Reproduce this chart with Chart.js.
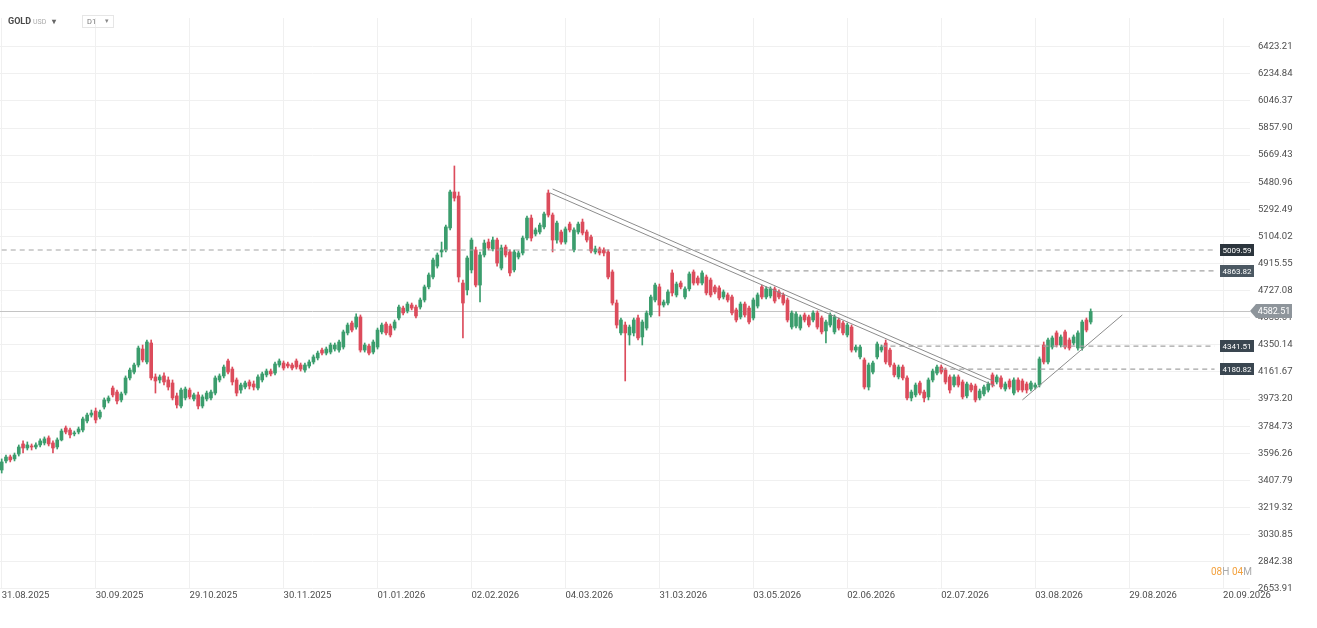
<!DOCTYPE html>
<html>
<head>
<meta charset="utf-8">
<script src="https://cdn.jsdelivr.net/npm/chart.js@4.4.1/dist/chart.umd.min.js"></script>
<style>
  html, body { margin: 0; padding: 0; background: #fff; overflow: hidden; }
  #wrap { position: relative; width: 1317px; height: 628px; }
  #chart { position: absolute; left: 0; top: 0; }
  .hdr { position: absolute; font-family: Roboto, sans-serif; white-space: nowrap; }
  #sym { left: 8px; top: 16px; font-size: 9px; font-weight: bold; color: #4a4a4a; }
  #sym small { font-weight: normal; font-size: 7px; color: #aaa; margin-left: 2px; }
  #sym i { font-style: normal; font-size: 8px; color: #666; margin-left: 6px; }
  #tf { left: 82px; top: 15px; width: 30px; height: 11px; border: 1px solid #e6e6e6; font-size: 7.5px; color: #777; line-height: 11px; }
  #tf span { position: absolute; left: 4px; }
  #tf i { position: absolute; right: 4px; font-style: normal; font-size: 7px; color: #888; }
  #timer { left: 1211px; top: 566px; font-size: 10px; color: #aaa; }
  #timer b { font-weight: normal; color: #f3a23f; }
</style>
</head>
<body>
<div id="wrap">
  <canvas id="chart" width="1317" height="628"></canvas>
  <div class="hdr" id="sym">GOLD<small>USD</small><i>▾</i></div>
  <div class="hdr" id="tf"><span>D1</span><i>▾</i></div>
  <div class="hdr" id="timer"><b>08</b>H <b>04</b>M</div>
</div>
<script>
// daily candles (one entry per bar)
var openVals = [
  3480,3543,3571,3557,3591,3661,3633,3647,3640,3654,
  3668,3703,3668,3640,3689,3772,3758,3731,3744,3758,
  3821,3862,3890,3848,3918,3960,4050,4022,3967,4015,
  4120,4161,4210,4321,4231,4363,4127,4106,4134,4106,
  4085,3995,3925,3981,4036,3974,4002,3925,3974,3981,
  4015,4106,4134,4238,4182,4106,4036,4057,4092,4078,
  4050,4106,4141,4168,4154,4210,4224,4217,4210,4238,
  4210,4175,4203,4231,4259,4314,4293,4300,4321,4314,
  4335,4433,4502,4474,4544,4314,4342,4300,4335,4440,
  4495,4481,4467,4537,4606,4586,4627,4613,4613,4662,
  4753,4822,4898,4996,5010,5163,5413,5385,4780,4732,
  4871,5010,4766,4975,5065,5017,5079,4884,5030,4996,
  4871,4961,4989,5093,5232,5121,5135,5170,5406,5253,
  5079,5135,5065,5190,5010,5135,5204,5135,5100,4996,
  5017,5010,4996,4857,4641,4433,4488,4419,4433,4537,
  4405,4467,4558,4662,4753,4627,4641,4850,4697,4780,
  4683,4739,4857,4815,4780,4822,4801,4753,4746,4683,
  4697,4683,4593,4544,4634,4606,4537,4620,4753,4683,
  4690,4739,4718,4697,4662,4474,4481,4467,4558,4544,
  4523,4572,4537,4447,4488,4440,4523,4502,4419,4474,
  4314,4266,4245,4057,4161,4266,4314,4363,4314,4210,
  4127,4196,4120,3981,4002,4085,4022,3988,4106,4154,
  4196,4175,4127,4071,4127,4092,3995,4071,4064,3981,
  4009,4036,4141,4092,4120,4043,4099,4015,4106,4099,
  4078,4043,4057,4071,4349,4231,4335,4433,4349,4440,
  4384,4363,4328,4328,4523,4509
];
var closeVals = [
  3536,3570,3550,3584,3640,3633,3654,3640,3654,3682,
  3696,3661,3633,3689,3751,3744,3724,3737,3765,3835,
  3862,3876,3828,3883,3967,3981,4002,3960,4009,4120,
  4175,4210,4328,4245,4370,4120,4099,4127,4092,4057,
  3981,3932,4036,4043,3988,4002,3925,3988,4015,4022,
  4120,4134,4196,4161,4092,4015,4071,4085,4064,4057,
  4127,4148,4168,4148,4217,4238,4189,4203,4189,4196,
  4182,4210,4231,4266,4293,4293,4321,4349,4349,4370,
  4440,4488,4453,4544,4314,4349,4293,4370,4453,4488,
  4433,4419,4509,4613,4572,4634,4606,4551,4662,4753,
  4836,4940,4975,5010,5170,5413,5371,4822,4641,4954,
  5079,4766,4975,5058,5024,5079,4919,5024,4975,4850,
  4996,4989,5093,5232,5093,5149,5183,5260,5253,5079,
  5197,5065,5156,5149,5149,5190,5128,5079,5003,5017,
  4989,4989,4822,4641,4488,4523,4433,4474,4523,4398,
  4509,4572,4683,4766,4627,4648,4718,4711,4773,4753,
  4739,4843,4780,4780,4850,4711,4697,4718,4676,4718,
  4662,4572,4523,4634,4558,4509,4662,4697,4683,4739,
  4739,4655,4683,4641,4523,4572,4565,4544,4523,4488,
  4572,4474,4440,4509,4558,4544,4467,4433,4488,4314,
  4335,4335,4057,4210,4224,4356,4335,4231,4210,4141,
  4196,4120,3981,4022,4071,4015,3981,4106,4168,4196,
  4161,4092,4036,4127,4071,3988,4078,4036,3967,4029,
  4057,4078,4071,4127,4057,4078,4057,4106,4036,4036,
  4036,4085,4071,4252,4231,4384,4398,4349,4405,4335,
  4328,4405,4433,4509,4453,4582
];
var highVals = [
  3557,3584,3584,3598,3654,3682,3675,3661,3668,3696,
  3710,3717,3682,3703,3765,3786,3772,3751,3779,3848,
  3876,3897,3911,3897,3981,3995,4064,4036,4022,4134,
  4189,4224,4342,4349,4384,4384,4148,4141,4155,4127,
  4106,4015,4050,4057,4050,4015,4022,4002,4029,4036,
  4134,4148,4210,4252,4196,4120,4085,4099,4106,4099,
  4141,4161,4182,4182,4231,4252,4238,4231,4224,4252,
  4224,4224,4245,4280,4307,4328,4335,4363,4363,4384,
  4453,4502,4516,4565,4558,4363,4356,4384,4467,4502,
  4509,4495,4523,4627,4620,4648,4641,4627,4676,4766,
  4850,4954,4989,5065,5183,5427,5594,5413,4801,4968,
  5093,5030,4996,5079,5086,5100,5093,5044,5044,5010,
  5010,5003,5107,5246,5253,5163,5197,5274,5427,5267,
  5211,5149,5170,5204,5163,5204,5225,5149,5114,5037,
  5030,5024,5010,4871,4662,4537,4509,4488,4537,4558,
  4523,4586,4697,4780,4773,4662,4732,4871,4787,4794,
  4753,4857,4871,4829,4864,4836,4815,4766,4760,4732,
  4711,4697,4606,4648,4648,4620,4676,4711,4766,4753,
  4753,4753,4732,4711,4676,4586,4579,4558,4572,4558,
  4586,4586,4551,4523,4572,4558,4537,4516,4502,4488,
  4349,4349,4259,4224,4238,4370,4349,4384,4328,4224,
  4210,4210,4134,4036,4085,4099,4036,4120,4182,4210,
  4210,4189,4141,4141,4141,4106,4092,4085,4078,4043,
  4071,4092,4155,4141,4134,4092,4113,4120,4120,4113,
  4092,4099,4085,4266,4370,4398,4412,4447,4419,4453,
  4398,4419,4447,4523,4537,4600
];
var lowVals = [
  3459,3529,3536,3543,3577,3598,3619,3619,3626,3640,
  3654,3647,3598,3626,3682,3731,3703,3717,3731,3744,
  3807,3848,3807,3835,3904,3946,3988,3939,3953,4002,
  4106,4148,4196,4231,4217,4106,4015,4085,4071,4036,
  3967,3911,3911,3967,3974,3960,3904,3911,3960,3967,
  4002,4092,4120,4148,4071,3995,4015,4043,4043,4036,
  4036,4092,4127,4134,4141,4196,4175,4189,4175,4182,
  4168,4161,4189,4217,4245,4280,4280,4287,4307,4300,
  4321,4419,4440,4460,4300,4300,4280,4287,4321,4426,
  4419,4405,4453,4523,4558,4572,4593,4537,4599,4648,
  4739,4808,4884,4961,4996,5149,5350,4787,4398,4697,
  4850,4753,4648,4961,5010,5003,4898,4871,4961,4829,
  4857,4947,4975,5079,5072,5107,5121,5156,5239,4996,
  5058,5051,5051,5135,4996,5121,5114,5065,4989,4982,
  4975,4968,4808,4627,4467,4419,4099,4349,4412,4384,
  4349,4453,4544,4648,4551,4613,4627,4690,4683,4739,
  4669,4725,4766,4766,4766,4697,4683,4704,4662,4669,
  4648,4558,4509,4530,4544,4495,4523,4606,4669,4669,
  4676,4641,4669,4627,4509,4460,4467,4453,4509,4474,
  4509,4460,4426,4363,4474,4426,4453,4419,4405,4300,
  4300,4252,4043,4036,4148,4252,4300,4217,4196,4127,
  4113,4106,3967,3960,3988,4002,3953,3967,4092,4141,
  4148,4078,4015,4057,4057,3974,3981,4022,3953,3967,
  3995,4022,4057,4078,4043,4029,4043,4002,4022,4022,
  4015,4029,4043,4057,4217,4217,4321,4335,4335,4321,
  4314,4349,4314,4314,4440,4495
];

// axis ticks
var dateLabels = ['31.08.2025','30.09.2025','29.10.2025','30.11.2025','01.01.2026','02.02.2026','04.03.2026',
                  '31.03.2026','03.05.2026','02.06.2026','02.07.2026','03.08.2026','29.08.2026','20.09.2026'];
var dateTickIdx = [0, 22, 44, 66, 88, 110, 132, 154, 176, 198, 220, 242, 264, 286];
var priceTicks = [2653.91, 2842.38, 3030.85, 3219.32, 3407.79, 3596.26, 3784.73, 3973.20, 4161.67, 4350.14,
                  4538.61, 4727.08, 4915.55, 5104.02, 5292.49, 5480.96, 5669.43, 5857.90, 6046.37, 6234.84, 6423.21];

// horizontal levels and drawn trend lines
var lastPrice = 4582.51;
var levelVals = [5009.59, 4863.82, 4341.51, 4180.82];
var levelFrom = [0, 173, 206, 220];
var levelTo = 284;
var chanUpper = [{ x: 129, y: 5434 }, { x: 232.2, y: 4099 }];
var chanLower = [{ x: 128.4, y: 5406 }, { x: 232.6, y: 4064 }];
var supportLine = [{ x: 239, y: 3967 }, { x: 262.4, y: 4558 }];

var up = '#3b9d6d', down = '#dc4c5c';
function candleColor(c) {
    return closeVals[c.dataIndex] >= openVals[c.dataIndex] ? up : down;
}

Chart.defaults.font.family = 'Roboto, sans-serif';
Chart.defaults.font.size = 9.5;
Chart.defaults.color = '#4d4d4d';

var lineBase = { type: 'line', pointRadius: 0, borderWidth: 1, fill: false, order: 1 };

var datasets = [
    {
        label: 'wick',
        data: lowVals.map(function (l, i) { return { x: i, y: [l, highVals[i]] }; }),
        backgroundColor: candleColor,
        barThickness: 1,
        grouped: false,
        order: 3
    },
    {
        label: 'body',
        data: openVals.map(function (o, i) { return { x: i, y: [o, closeVals[i]] }; }),
        backgroundColor: candleColor,
        barThickness: 3,
        minBarLength: 1,
        grouped: false,
        order: 2
    },
    Object.assign({}, lineBase, { data: chanUpper, borderColor: '#8c8c8c' }),
    Object.assign({}, lineBase, { data: chanLower, borderColor: '#8c8c8c' }),
    Object.assign({}, lineBase, { data: supportLine, borderColor: '#8c8c8c' })
];
levelVals.forEach(function (v, k) {
    datasets.push(Object.assign({}, lineBase, {
        data: [{ x: levelFrom[k], y: v }, { x: levelTo, y: v }],
        borderColor: '#a3a3a3',
        borderDash: [5, 4],
        borderWidth: 1.2
    }));
});

var levelTagColors = ['#2c353d', '#4b5862', '#3a4650', '#3a4650'];

var overlay = {
    id: 'overlay',
    beforeDatasetsDraw: function (chart) {
        var ctx = chart.ctx, a = chart.chartArea, y = chart.scales.y;
        var py = Math.round(y.getPixelForValue(lastPrice)) + 0.5;
        ctx.save();
        ctx.strokeStyle = '#c4c4c4';
        ctx.lineWidth = 1;
        ctx.beginPath();
        ctx.moveTo(a.left, py);
        ctx.lineTo(a.right, py);
        ctx.stroke();
        ctx.restore();
    },
    afterDraw: function (chart) {
        var ctx = chart.ctx, a = chart.chartArea, y = chart.scales.y;
        ctx.save();
        ctx.font = '8px Roboto, sans-serif';
        ctx.textAlign = 'center';
        ctx.textBaseline = 'middle';
        levelVals.forEach(function (v, k) {
            var py = Math.round(y.getPixelForValue(v));
            ctx.fillStyle = levelTagColors[k];
            ctx.fillRect(a.right - 30, py - 6, 34, 12);
            ctx.fillStyle = '#ffffff';
            ctx.fillText(v.toFixed(2), a.right - 13, py + 0.5);
        });
        // current price tag
        var py = Math.round(y.getPixelForValue(lastPrice));
        ctx.fillStyle = '#8e959b';
        ctx.beginPath();
        ctx.moveTo(a.right, py);
        ctx.lineTo(a.right + 6, py - 7);
        ctx.lineTo(a.right + 42, py - 7);
        ctx.lineTo(a.right + 42, py + 7);
        ctx.lineTo(a.right + 6, py + 7);
        ctx.closePath();
        ctx.fill();
        ctx.fillStyle = '#ffffff';
        ctx.font = '9px Roboto, sans-serif';
        ctx.fillText(lastPrice.toFixed(2), a.right + 24, py + 0.5);
        ctx.restore();
    }
};

new Chart(document.getElementById('chart').getContext('2d'), {
    type: 'bar',
    data: { datasets: datasets },
    options: {
        responsive: false,
        animation: false,
        layout: { padding: { top: 18, left: 0, right: 0, bottom: 0 } },
        plugins: { legend: { display: false }, tooltip: { enabled: false } },
        scales: {
            x: {
                type: 'linear',
                min: -0.4,
                max: 292.3,
                offset: false,
                grid: { color: '#f0f0f0', offset: false, drawTicks: false },
                border: { display: false },
                afterBuildTicks: function (scale) {
                    scale.ticks = dateTickIdx.map(function (v) { return { value: v }; });
                },
                afterFit: function (scale) { scale.height = 39; },
                ticks: {
                    align: 'start',
                    padding: 1,
                    maxRotation: 0,
                    callback: function (v, i) { return dateLabels[i]; }
                }
            },
            y: {
                position: 'right',
                min: 2652.5,
                max: 6622.8,
                grid: { color: '#f0f0f0', drawTicks: false },
                border: { display: false },
                afterBuildTicks: function (scale) {
                    scale.ticks = priceTicks.map(function (v) { return { value: v }; });
                },
                afterFit: function (scale) { scale.width = 67; },
                ticks: {
                    padding: 8,
                    callback: function (v) { return v.toFixed(2); }
                }
            }
        }
    },
    plugins: [overlay]
});
</script>
</body>
</html>
